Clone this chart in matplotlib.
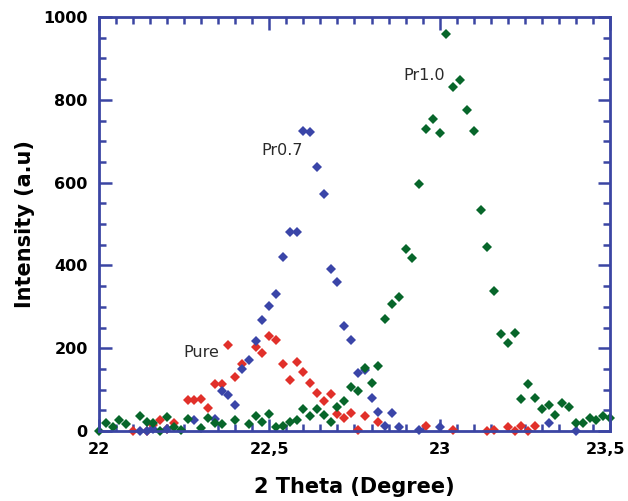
import matplotlib
matplotlib.use("Agg")
import matplotlib.pyplot as plt
import matplotlib.transforms as mtransforms
from matplotlib.ticker import MultipleLocator, FixedLocator

# XRD scans around the 22.5-23 degree reflection
pure_2theta = [22.10, 22.14, 22.16, 22.18, 22.20, 22.22, 22.26, 22.28, 22.30, 22.32,
               22.34, 22.36, 22.38, 22.40, 22.42, 22.46, 22.48, 22.50, 22.52, 22.54,
               22.56, 22.58, 22.60, 22.62, 22.64, 22.66, 22.68, 22.70, 22.72, 22.74,
               22.76, 22.78, 22.82, 22.96, 23.04, 23.14, 23.16, 23.20, 23.22, 23.24,
               23.26, 23.28]
pure_int = [0, 0, 15, 27, 6, 20, 75, 75, 77, 56,
            113, 113, 208, 130, 162, 204, 188, 229, 220, 163,
            123, 167, 143, 117, 93, 73, 89, 41, 31, 43,
            2, 36, 22, 12, 2, 0, 2, 9, 0, 12,
            0, 12]

pr07_2theta = [22.12, 22.14, 22.16, 22.20, 22.28, 22.34, 22.36, 22.38, 22.40, 22.42,
               22.44, 22.46, 22.48, 22.50, 22.52, 22.54, 22.56, 22.58, 22.60, 22.62,
               22.64, 22.66, 22.68, 22.70, 22.72, 22.74, 22.76, 22.78, 22.80, 22.82,
               22.84, 22.86, 22.88, 22.94, 23.00, 23.32, 23.40]
pr07_int = [0, 0, 5, 6, 27, 28, 97, 86, 63, 150,
            171, 217, 268, 301, 332, 420, 481, 481, 725, 722,
            637, 572, 391, 361, 254, 221, 141, 147, 79, 47,
            12, 43, 9, 2, 9, 20, 0]

pr10_2theta = [22.00, 22.02, 22.04, 22.06, 22.08, 22.12, 22.14, 22.16, 22.18, 22.20,
               22.22, 22.24, 22.26, 22.30, 22.32, 22.34, 22.36, 22.40, 22.44, 22.46,
               22.48, 22.50, 22.52, 22.54, 22.56, 22.58, 22.60, 22.62, 22.64, 22.66,
               22.68, 22.70, 22.72, 22.74, 22.76, 22.78, 22.80, 22.82, 22.84, 22.86,
               22.88, 22.90, 22.92, 22.94, 22.96, 22.98, 23.00, 23.02, 23.04, 23.06,
               23.08, 23.10, 23.12, 23.14, 23.16, 23.18, 23.20, 23.22, 23.24, 23.26,
               23.28, 23.30, 23.32, 23.34, 23.36, 23.38, 23.40, 23.42, 23.44, 23.46,
               23.48, 23.50]
pr10_int = [0, 19, 10, 27, 16, 36, 22, 20, 0, 33,
            10, 2, 28, 7, 32, 20, 16, 27, 17, 36,
            22, 40, 9, 12, 22, 27, 52, 36, 52, 39,
            22, 59, 73, 106, 97, 153, 117, 157, 271, 308,
            324, 439, 419, 597, 729, 754, 721, 960, 832, 849,
            775, 725, 533, 445, 338, 234, 213, 237, 77, 113,
            80, 52, 63, 39, 67, 59, 19, 19, 32, 27,
            36, 32]

axis_blue = "#3b45a3"

fig = plt.figure(figsize=(6.28, 5.01), dpi=100)
ax = fig.add_axes([0.1576, 0.1397, 0.8137, 0.8263])

marker_kw = dict(ls="none", marker="D", ms=5.0, mew=0, clip_on=False)
ax.plot(pure_2theta, pure_int, color="#e1302a", **marker_kw)
ax.plot(pr07_2theta, pr07_int, color="#3a45a8", **marker_kw)
ax.plot(pr10_2theta, pr10_int, color="#07662a", **marker_kw)

label_kw = dict(fontsize=11.5, color="#2a2a2a", ha="center", va="center")
ax.text(22.30, 190, "Pure", **label_kw)
ax.text(22.537, 677, "Pr0.7", **label_kw)
ax.text(22.954, 858, "Pr1.0", **label_kw)

ax.set_xlim(22, 23.5)
ax.set_ylim(0, 1000)

ax.xaxis.set_major_locator(FixedLocator([22, 22.5, 23, 23.5]))
ax.set_xticklabels(["22", "22,5", "23", "23,5"])
ax.xaxis.set_minor_locator(MultipleLocator(0.05))
ax.yaxis.set_major_locator(MultipleLocator(200))
ax.yaxis.set_minor_locator(MultipleLocator(50))

for side in ax.spines.values():
    side.set_color(axis_blue)
    side.set_linewidth(2)

ax.tick_params(which="both", direction="in", top=True, right=True, color=axis_blue, width=1.8)
ax.tick_params(which="major", length=9, labelsize=11.5, pad=8)
ax.tick_params(which="minor", length=5)
for lbl in ax.get_xticklabels() + ax.get_yticklabels():
    lbl.set_fontweight("bold")

# nudge the last x label so it stays inside the figure
last = ax.get_xticklabels()[-1]
last.set_transform(last.get_transform() + mtransforms.ScaledTranslation(-3 / 72, 0, fig.dpi_scale_trans))

ax.set_xlabel("2 Theta (Degree)", fontsize=15, fontweight="bold", labelpad=14)
ax.set_ylabel("Intensity (a.u)", fontsize=15, fontweight="bold", labelpad=6)

fig.savefig("out.png", dpi=100)
